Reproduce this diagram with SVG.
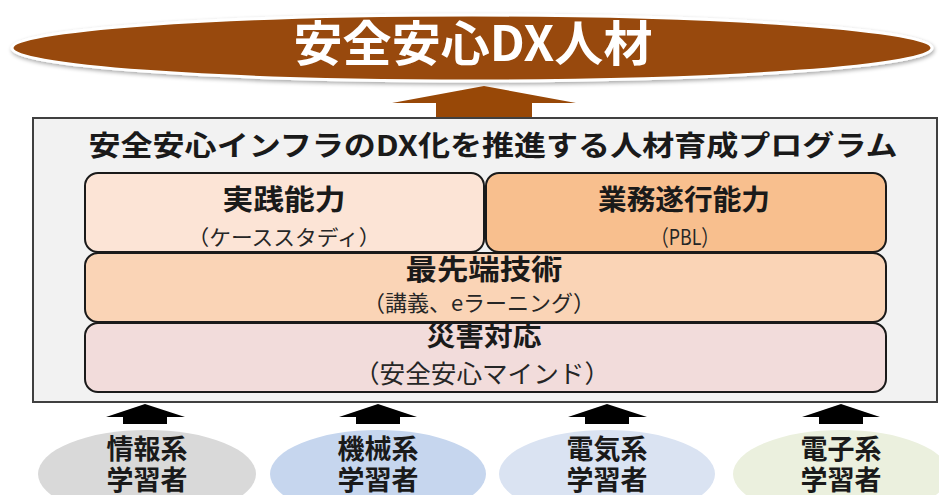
<svg xmlns="http://www.w3.org/2000/svg" width="939" height="495" viewBox="0 0 939 495">
<defs>
<filter id="sh" x="-5%" y="-30%" width="110%" height="160%">
<feGaussianBlur in="SourceAlpha" stdDeviation="2"/>
<feOffset dx="1" dy="2"/>
<feComponentTransfer><feFuncA type="linear" slope="0.35"/></feComponentTransfer>
<feMerge><feMergeNode/><feMergeNode in="SourceGraphic"/></feMerge>
</filter>
</defs>
<style>
text{font-family:"Noto Sans CJK JP","Noto Sans",sans-serif;text-anchor:middle;}
.b{font-weight:bold;fill:#1a1a1a;}
.s{font-weight:normal;fill:#262626;}
.box{stroke:#1a1a1a;stroke-width:2;}
.lr{font-weight:bold;fill:#1a1a1a;font-size:27px;}
</style>
<rect width="939" height="495" fill="#ffffff"/>
<g id="goal">
<ellipse cx="472" cy="48" rx="460" ry="33" fill="#984807" stroke="#ffffff" stroke-width="3" filter="url(#sh)"/>
<text x="473" y="61" font-size="48" font-weight="bold" fill="#ffffff" textLength="359" lengthAdjust="spacingAndGlyphs">安全安心DX人材</text>
</g>
<g id="connectors">
<polygon points="392,103 484,86 576,103 532,103 532,119 436,119 436,103" fill="#984807"/>
<polygon points="106,417 145,404 185,417 167,417 167,424 123,424 123,417" fill="#000"/>
<polygon points="339,417 378,404 417,417 400,417 400,424 356,424 356,417" fill="#000"/>
<polygon points="568,417 607,404 647,417 629,417 629,424 585,424 585,417" fill="#000"/>
<polygon points="802,417 841,404 880,417 863,417 863,424 819,424 819,417" fill="#000"/>
</g>
<g id="program">
<rect x="33" y="118" width="904" height="284" fill="#f2f2f2" stroke="#404040" stroke-width="2"/>
<text class="b" x="493" y="156" font-size="28" textLength="809" lengthAdjust="spacingAndGlyphs">安全安心インフラのDX化を推進する人材育成プログラム</text>
</g>
<g id="practice">
<rect class="box" x="85" y="173" width="399" height="79" rx="13" fill="#fce4d6"/>
<text class="b" x="284" y="210" font-size="28" textLength="123" lengthAdjust="spacingAndGlyphs">実践能力</text>
<text class="s" x="284" y="245" font-size="21" textLength="193" lengthAdjust="spacingAndGlyphs">（ケーススタディ）</text>
</g>
<g id="execution">
<rect class="box" x="486" y="173" width="400" height="79" rx="13" fill="#f8bf8e"/>
<text class="b" x="684" y="210" font-size="28" textLength="172" lengthAdjust="spacingAndGlyphs">業務遂行能力</text>
<text class="s" x="685" y="245" font-size="22" textLength="68" lengthAdjust="spacingAndGlyphs">（PBL）</text>
</g>
<g id="advanced">
<rect class="box" x="85" y="253" width="801" height="69" rx="13" fill="#fad4b6"/>
<text class="b" x="484" y="280" font-size="28" textLength="157" lengthAdjust="spacingAndGlyphs">最先端技術</text>
<text class="s" x="479" y="311" font-size="22" textLength="232" lengthAdjust="spacingAndGlyphs">（講義、eラーニング）</text>
</g>
<g id="disaster">
<rect class="box" x="85" y="323" width="801" height="69" rx="13" fill="#f2dcdb"/>
<text class="b" x="484" y="346" font-size="27" textLength="115" lengthAdjust="spacingAndGlyphs">災害対応</text>
<text class="s" x="482" y="383" font-size="25" textLength="256" lengthAdjust="spacingAndGlyphs">（安全安心マインド）</text>
</g>
<g id="info">
<ellipse cx="147" cy="474" rx="109" ry="44" fill="#d9d9d9"/>
<text class="lr" x="147" y="459">情報系</text>
<text class="lr" x="147" y="490">学習者</text>
</g>
<g id="mech">
<ellipse cx="378" cy="474" rx="108" ry="44" fill="#c6d6ee"/>
<text class="lr" x="378" y="459">機械系</text>
<text class="lr" x="378" y="490">学習者</text>
</g>
<g id="elec">
<ellipse cx="607" cy="474" rx="108" ry="44" fill="#dae3f2"/>
<text class="lr" x="607" y="459">電気系</text>
<text class="lr" x="607" y="490">学習者</text>
</g>
<g id="electronics">
<ellipse cx="841" cy="474" rx="108" ry="44" fill="#ebf0de"/>
<text class="lr" x="841" y="459">電子系</text>
<text class="lr" x="841" y="490">学習者</text>
</g>
</svg>
